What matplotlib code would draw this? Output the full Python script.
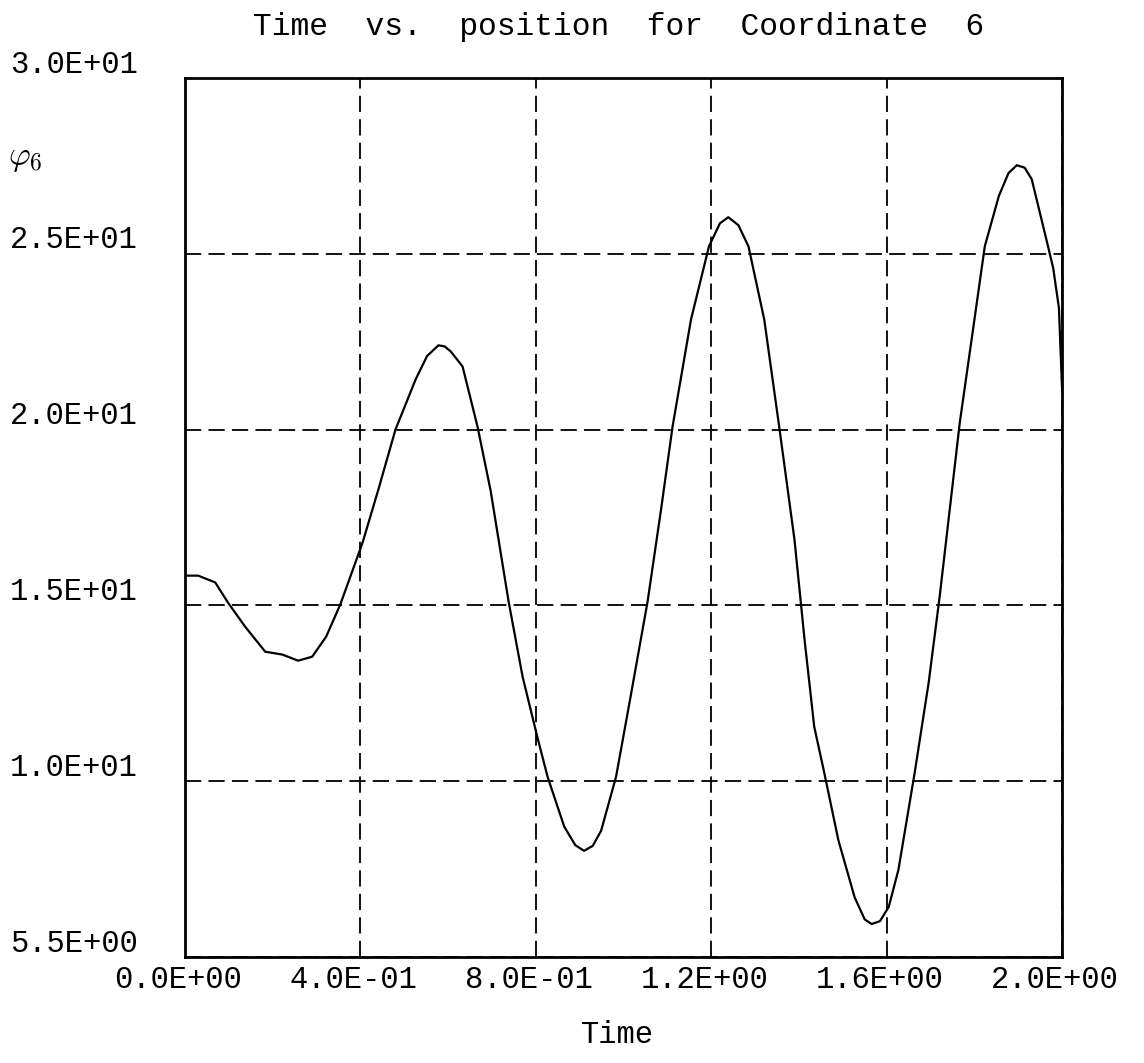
import numpy as np
import matplotlib.pyplot as plt
from matplotlib.transforms import ScaledTranslation

# curve (time, phi_6)
time = [0.000, 0.030, 0.069, 0.098, 0.137, 0.183, 0.222, 0.258, 0.290, 0.322,
        0.354, 0.405, 0.441, 0.480, 0.526, 0.552, 0.578, 0.592, 0.606, 0.633,
        0.667, 0.697, 0.738, 0.770, 0.804, 0.827, 0.865, 0.890, 0.910, 0.930,
        0.949, 0.983, 1.017, 1.055, 1.086, 1.112, 1.154, 1.195, 1.220, 1.239,
        1.262, 1.285, 1.321, 1.355, 1.390, 1.413, 1.435, 1.458, 1.490, 1.527,
        1.550, 1.566, 1.585, 1.605, 1.627, 1.664, 1.696, 1.721, 1.767, 1.794,
        1.824, 1.856, 1.878, 1.897, 1.915, 1.931, 1.966, 1.980, 1.993, 2.000]
phi6 = [16.13, 16.13, 15.94, 15.38, 14.71, 14.01, 13.93, 13.76, 13.87, 14.43,
        15.32, 17.05, 18.53, 20.20, 21.60, 22.25, 22.55, 22.52, 22.38, 21.96,
        20.29, 18.50, 15.41, 13.31, 11.61, 10.52, 9.13, 8.62, 8.46, 8.60,
        9.02, 10.52, 12.81, 15.41, 18.00, 20.29, 23.27, 25.31, 25.95, 26.12,
        25.90, 25.31, 23.27, 20.29, 17.13, 14.34, 11.92, 10.63, 8.76, 7.17,
        6.55, 6.42, 6.50, 6.90, 7.93, 10.63, 13.15, 15.54, 20.40, 22.72,
        25.31, 26.71, 27.35, 27.57, 27.50, 27.18, 25.42, 24.70, 23.60, 21.40]

y_lo, y_hi = 5.5, 30.0
x_ticks = [0.0, 0.4, 0.8, 1.2, 1.6, 2.0]
x_labels = ["0.0E+00", "4.0E-01", "8.0E-01", "1.2E+00", "1.6E+00", "2.0E+00"]
# the y axis is split into five equal parts, labels are the rounded values
y_ticks = np.linspace(y_lo, y_hi, 6)
y_labels = ["5.5E+00", "1.0E+01", "1.5E+01", "2.0E+01", "2.5E+01", "3.0E+01"]

mono = "Liberation Mono"

fig = plt.figure(figsize=(11.44, 10.63), dpi=100)
ax = fig.add_axes([0.1617, 0.0997, 0.7666, 0.8269])

ax.plot(time, phi6, color="black", linewidth=1.6)

ax.set_xlim(0, 2.0)
ax.set_ylim(y_lo, y_hi)
ax.set_xticks(x_ticks)
ax.set_xticklabels(x_labels, fontfamily=mono, fontsize=22)
ax.set_yticks(y_ticks)
ax.set_yticklabels(y_labels, fontfamily=mono, fontsize=22)
ax.tick_params(axis="both", length=0)
ax.tick_params(axis="x", pad=6)
ax.tick_params(axis="y", pad=34)

# y labels sit a bit above their grid lines, x labels a bit to the left
for lab in ax.get_yticklabels():
    lab.set_transform(lab.get_transform() + ScaledTranslation(0, 0.17, fig.dpi_scale_trans))
for lab in ax.get_xticklabels():
    lab.set_transform(lab.get_transform() + ScaledTranslation(-0.07, 0, fig.dpi_scale_trans))

ax.grid(True, color="black", linestyle=(0, (9, 4)), linewidth=1.3)
for sp in ax.spines.values():
    sp.set_linewidth(2)
    sp.set_color("black")

fig.text(0.541, 1 - 27 / 1063, "Time  vs.  position  for  Coordinate  6",
         ha="center", va="center", fontfamily=mono, fontsize=22.5)
fig.text(0.540, 1 - 1035 / 1063, "Time", ha="center", va="center",
         fontfamily=mono, fontsize=22)
fig.text(0.022, 1 - 158 / 1063, r"$\varphi_6$", ha="center", va="center",
         fontsize=24, math_fontfamily="cm")

fig.savefig("out.png", dpi=100)
